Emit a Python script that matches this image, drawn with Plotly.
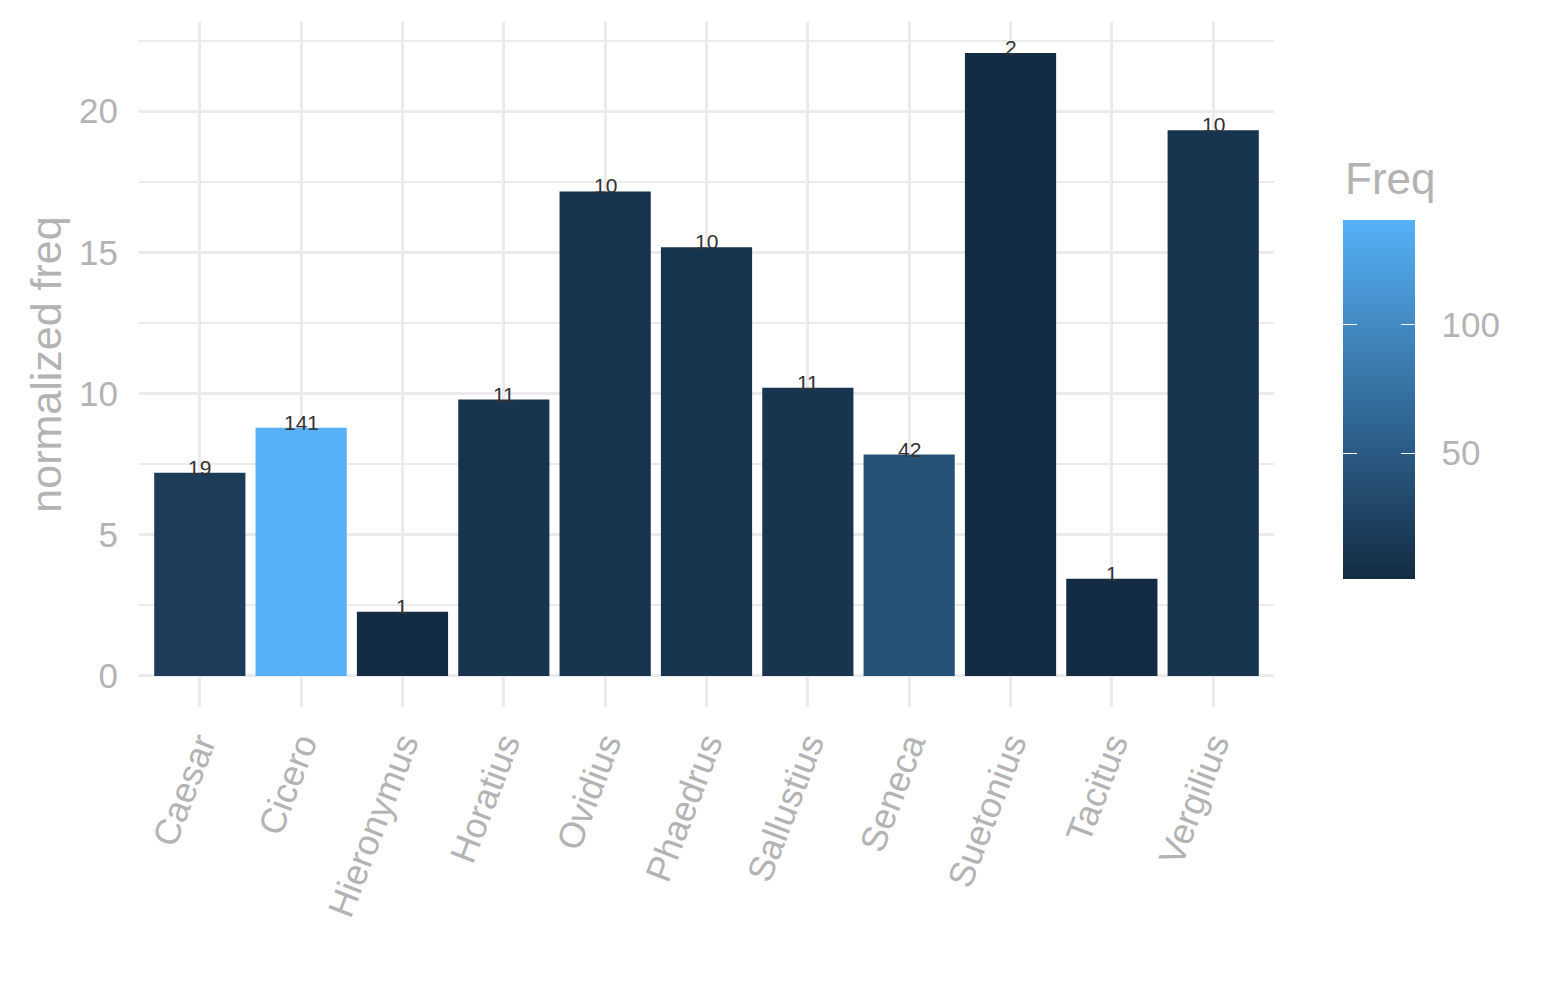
import plotly.graph_objects as go

authors = ["Caesar", "Cicero", "Hieronymus", "Horatius", "Ovidius", "Phaedrus",
           "Sallustius", "Seneca", "Suetonius", "Tacitus", "Vergilius"]
norm_freq = [7.2, 8.79, 2.27, 9.79, 17.16, 15.18, 10.21, 7.84, 22.06, 3.44, 19.33]
freq = [19, 141, 1, 11, 10, 10, 11, 42, 2, 1, 10]
cbar_ticks = [50, 100]

grey = "#b3b3b3"
grid = "#ebebeb"
font = "Liberation Sans, Arial, sans-serif"
scale = [[0, "#132B43"], [1, "#56B1F7"]]

# colour bar placement (paper coords)
cb_x, cb_y, cb_len_px, cb_thick = 1.052, 0.4494, 359, 72
plot_w, plot_h = 1135, 685
cmin, cmax = min(freq), max(freq)
tick_px = 14

fig = go.Figure()
fig.add_trace(go.Bar(
    x=authors, y=norm_freq, width=0.9,
    marker=dict(
        color=freq, cmin=cmin, cmax=cmax, colorscale=scale,
        line=dict(width=0),
        colorbar=dict(
            thickness=cb_thick, thicknessmode="pixels",
            len=cb_len_px, lenmode="pixels", ypad=0,
            x=cb_x, xanchor="left", y=cb_y, yanchor="middle",
            tickvals=cbar_ticks, ticks="outside", ticklen=20, tickcolor="white",
            outlinewidth=0,
            tickfont=dict(size=35, color=grey),
        ),
    ),
    showlegend=False,
))

# thin overlay strips on the colour bar edges, carrying the white tick marks
for strip_x in [cb_x, cb_x + (cb_thick - tick_px) / plot_w]:
    fig.add_trace(go.Scatter(
        x=authors, y=norm_freq, mode="markers", hoverinfo="skip", showlegend=False,
        marker=dict(
            size=1, opacity=0, color=freq, cmin=cmin, cmax=cmax, colorscale=scale,
            colorbar=dict(
                thickness=tick_px, thicknessmode="pixels",
                len=cb_len_px, lenmode="pixels", ypad=0,
                x=strip_x, xanchor="left", y=cb_y, yanchor="middle",
                tickvals=cbar_ticks, ticks="inside", ticklen=tick_px, tickcolor="white",
                tickwidth=1.3, outlinewidth=0, showticklabels=False,
            ),
        ),
    ))

for a, v, f in zip(authors, norm_freq, freq):
    fig.add_annotation(x=a, y=v, text=str(f), showarrow=False, yanchor="bottom",
                       yshift=-8, font=dict(size=21, color="#333333", family=font))

# legend title
bar_left = cb_x + 10 / plot_w
bar_top = cb_y + cb_len_px / 2 / plot_h
fig.add_annotation(xref="paper", yref="paper", x=bar_left, y=bar_top + 15 / plot_h,
                   text="Freq", showarrow=False, xanchor="left", yanchor="bottom",
                   font=dict(size=44, color=grey, family=font))

fig.update_layout(
    width=1545, height=1000,
    margin=dict(l=131, r=279, t=14, b=301),
    plot_bgcolor="white", paper_bgcolor="white",
    font=dict(family=font, color=grey),
    bargap=0.1,
)
fig.update_xaxes(
    range=[-0.6, 10.6], showgrid=True, gridcolor=grid, gridwidth=3,
    tickangle=-69, tickfont=dict(size=36, color=grey), ticks="", showline=False,
    ticklabelstandoff=8,
)
fig.update_yaxes(
    range=[-1.1, 23.16], showgrid=True, gridcolor=grid, gridwidth=3,
    tickvals=[0, 5, 10, 15, 20], tickfont=dict(size=35, color=grey),
    zeroline=False, showline=False, ticks="", ticklabelstandoff=20,
    minor=dict(showgrid=True, tickvals=[2.5, 7.5, 12.5, 17.5, 22.5], gridcolor=grid, gridwidth=1.5),
    title=dict(text="normalized freq", font=dict(size=43, color=grey), standoff=4),
)

fig.write_html("out.html")
